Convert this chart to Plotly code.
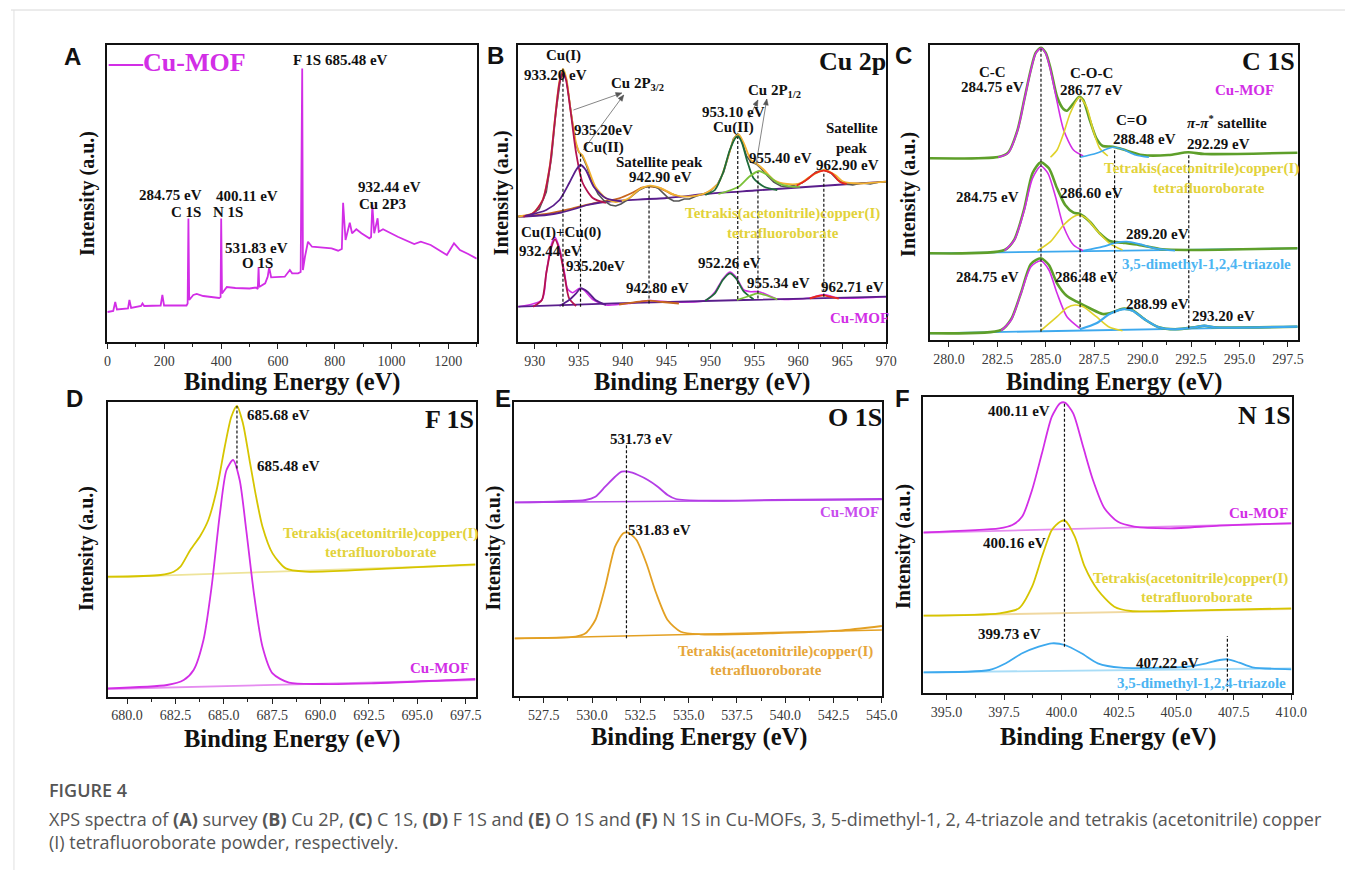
import math
import plotly.graph_objects as go

# page body margin of the html page shifts the figure by 8 px; compensate
OFF = 8
W, H = 1360 - OFF, 870 - OFF

# ---------------- Panel A : survey (Cu-MOF) ----------------
a_ev = [0, 20, 27, 33, 72, 77, 83, 118, 123, 129, 187, 193, 199, 278, 282, 284.75, 287.5, 302, 314, 337,
        393, 398, 400.11, 403, 420, 450, 500, 523, 529, 531.83, 534, 555, 564, 569, 576, 624, 642, 650,
        671, 680, 685.48, 688, 695, 705.8, 720, 789, 812, 825, 829.5, 838, 853, 861, 876, 894, 922, 928,
        932.44, 939, 951, 955, 970, 1022, 1080, 1103, 1138, 1195, 1220, 1241, 1270, 1300]
a_int = [30, 31, 40, 32.5, 33.5, 42, 34, 36, 38.5, 36, 36.5, 47, 36.5, 36.5, 38.5, 123.5, 42, 47, 48, 46,
         44, 45, 123.5, 48.5, 55, 54, 53.5, 54.5, 53, 75, 55, 58.7, 65.3, 74.7, 64.7, 65.3, 72, 68.7,
         68.7, 70, 273.5, 72, 85, 100.3, 95.3, 93.7, 91.3, 93, 139.3, 102, 119.3, 108.7, 112.7, 108.7, 103.7, 105,
         137, 108.7, 123.7, 110.3, 112.7, 105.3, 98, 100.3, 97, 87, 98.7, 92, 88, 83.3]

# ---------------- Panel B : Cu 2p ----------------
# Tetrakis(acetonitrile)copper(I) tetrafluoroborate (upper spectrum)
b_top_bg = [(928.1, 125.3), (931.3, 127), (933.0, 129.5), (934.5, 133), (936.0, 137), (937.5, 139.5),
            (939.0, 141), (945, 144), (950, 148.5), (955, 151.5), (960, 154.5), (965, 157.5), (970, 160.3)]
b_top_cu1 = [(928.7, 125.5), (929.8, 128.7), (930.9, 142), (931.7, 175), (932.25, 219), (932.8, 259),
             (933.2, 270), (933.55, 262), (934.1, 229), (934.7, 189), (935.45, 159), (936.6, 144), (938.1, 139)]
b_top_cu2 = [(928.9, 126), (931.3, 132), (932.8, 142), (933.9, 158.7), (934.7, 172), (935.2, 177),
             (935.8, 172), (936.7, 155.3), (938.1, 143.7), (939.9, 140.5)]
b_top_sat1 = [(928.1, 125.3), (931.3, 128), (934.3, 133.7), (937, 139.3), (939.6, 143.7), (941.1, 149.3),
              (942.2, 154.3), (943.1, 155.3), (944.3, 153.7), (945.4, 148.7), (946.7, 145)]
b_top_p953 = [(949.4, 147), (950.5, 152), (951.4, 168.7), (952.2, 192), (952.9, 204.7), (953.2, 205.3),
              (953.6, 198.7), (954.2, 180.3), (954.9, 163.7), (956.1, 155.3), (957.6, 152)]
b_top_p955 = [(950.9, 148), (953.2, 155.3), (954.4, 165.3), (955.5, 171), (956.5, 167), (957.6, 159.3),
              (959.1, 155.3), (960.2, 155.5)]
b_top_sat2 = [(959.8, 156.3), (960.9, 162), (961.9, 168.7), (962.9, 171.3), (963.8, 168.7), (964.7, 160.3),
              (965.5, 158)]
b_top_env = [(928.1, 125.5), (929.8, 129), (930.9, 142.5), (931.7, 176), (932.25, 220), (932.8, 261),
             (933.2, 273), (933.6, 263), (934.1, 230), (934.7, 199), (935.1, 189), (935.4, 187), (936.0, 175.3),
             (936.9, 155.3), (938.1, 143.7), (939.2, 140), (940.7, 143.7), (941.8, 152), (943.1, 156.3),
             (944.4, 153.7), (945.9, 147), (947.4, 145.3), (949.4, 148.7), (950.9, 158.7), (952.0, 185.3),
             (952.7, 203.7), (953.2, 207.7), (953.8, 198.7), (954.6, 182), (955.3, 178), (956.1, 172),
             (957.2, 162), (958.7, 158), (960.2, 158.7), (961.3, 165.3), (962.9, 172), (964.2, 167),
             (965.1, 160.3), (967, 158.5), (970, 160.3)]
b_top_raw = [(928.1, 125.5), (929.5, 127), (930.5, 133), (931.3, 150), (931.9, 185), (932.4, 230), (932.9, 262),
             (933.2, 272), (933.6, 262), (934.1, 230), (934.6, 200), (935.0, 190), (935.4, 186), (935.9, 176),
             (936.5, 160), (937.2, 148), (937.9, 141), (938.6, 137), (939.2, 136), (939.8, 138), (940.5, 142),
             (941.2, 147), (941.9, 152), (942.6, 155), (943.3, 156), (944.0, 154), (944.6, 149), (945.2, 144),
             (945.8, 141), (946.4, 141), (947.0, 143), (947.6, 143), (948.4, 146), (949.2, 148), (950.0, 151),
             (950.8, 158), (951.5, 170), (952.1, 188), (952.6, 203), (953.1, 208), (953.6, 200), (954.1, 186),
             (954.6, 180), (955.2, 178), (955.8, 173), (956.5, 166), (957.2, 160), (958.0, 156), (958.8, 155),
             (959.6, 157), (960.4, 159), (961.2, 164), (962.0, 170), (962.9, 172), (963.7, 169), (964.5, 162),
             (965.3, 158), (966.2, 157), (967.2, 159), (968.2, 158), (969.2, 160), (970, 160)]
# Cu-MOF (lower spectrum)
b_bot_bg = [(928.1, 35.3), (939, 38.7), (953.8, 42), (970, 45.3)]
b_bot_cu1 = [(929.8, 35.3), (930.8, 42), (931.3, 68.7), (931.9, 95.3), (932.3, 102.7), (932.8, 92),
             (933.4, 65.3), (933.9, 43.7), (934.7, 36)]
b_bot_cu2 = [(932.8, 36), (933.9, 42), (934.7, 48.7), (935.2, 53.7), (936.0, 50.3), (936.9, 42), (938.1, 37)]
b_bot_sat1 = [(939.6, 37.5), (941.9, 40.3), (943.0, 41.3), (944.5, 40), (946.4, 38.5)]
b_bot_p952 = [(949.4, 41.3), (950.5, 48.7), (951.4, 62), (952.2, 68.7), (952.9, 63.7), (953.8, 50.3), (954.9, 42.7)]
b_bot_p955 = [(953.0, 42), (954.4, 46), (955.3, 48.7), (956.2, 47), (957.6, 42.7)]
b_bot_sat2 = [(961.3, 43.7), (962.3, 46), (962.9, 46.7), (963.6, 45.3), (964.6, 43.3)]
b_bot_raw = [(928.1, 35.3), (930.8, 42), (931.3, 69), (931.9, 98), (932.3, 104.7), (932.8, 94), (933.4, 68),
             (933.7, 53.7), (934.3, 49.3), (935.1, 53.7), (935.6, 52), (936.6, 42.5), (938.1, 37), (940.7, 38.5),
             (943.0, 41.5), (945.6, 40), (949.4, 41.5), (950.5, 50), (951.4, 63), (952.2, 70), (952.9, 65),
             (953.8, 52), (954.6, 50.3), (955.5, 50.3), (956.5, 47), (957.6, 43), (961.3, 44), (962.9, 47.5),
             (964.6, 44), (970, 45.3)]
b_dash_ev = [933.2, 935.2, 943.0, 953.1, 955.4, 962.9]
b_dash_top = [275, 190, 155, 205, 170, 170]
b_dash_bot = [35.3, 35.3, 38.5, 43, 43.5, 45.3]

# ---------------- Panel C : C 1S ----------------
c1_env = [(279, 181.7), (282.54, 183), (283.05, 187.3), (283.55, 210.7), (283.89, 240.7), (284.23, 270.7),
          (284.48, 287.3), (284.74, 292.3), (284.99, 287.3), (285.24, 271.7), (285.58, 243.3), (285.92, 230.7),
          (286.09, 229.3), (286.43, 236.7), (286.73, 243.3), (286.93, 240), (287.27, 220), (287.61, 201.7),
          (287.94, 194), (288.46, 193.3), (288.96, 190.7), (289.98, 185), (291.33, 185), (292.35, 187.7),
          (293.19, 186), (298, 187.3)]
c1_cc = [(282.54, 182.7), (283.05, 186.7), (283.55, 210), (283.89, 240), (284.23, 270), (284.48, 286.7),
         (284.74, 291.7), (284.99, 286.7), (285.24, 270), (285.58, 238.3), (285.92, 210), (286.43, 190), (286.93, 184)]
c1_coc = [(285.24, 182.7), (285.58, 190), (285.92, 206.7), (286.26, 226.7), (286.73, 242.7), (287.1, 233.3),
          (287.44, 210), (287.78, 191.7), (288.2, 184)]
c1_co = [(286.76, 182.7), (287.61, 186.7), (288.12, 190.7), (288.46, 192.7), (288.96, 190.7), (289.64, 185), (290.32, 182.7)]

c2_base = [(279, 86.7), (298, 91.7)]
c2_env = [(279, 86.7), (282.87, 90), (283.38, 100.7), (283.89, 131.7), (284.31, 166.7), (284.74, 177.7),
          (285.16, 171.7), (285.58, 151.7), (286.0, 135), (286.43, 127.3), (286.76, 126), (287.27, 118.3),
          (287.78, 106.7), (288.29, 99), (288.96, 97.3), (289.81, 95), (291.0, 90.7), (292.35, 90), (298, 91.7)]
c2_cc = [(282.87, 89.3), (283.38, 100), (283.89, 130), (284.31, 161.7), (284.74, 174), (285.11, 166.7),
         (285.5, 143.3), (285.92, 113.3), (286.43, 95), (286.93, 89.3)]
c2_coc = [(284.57, 89.3), (285.24, 98.3), (285.92, 115), (286.43, 123.3), (286.68, 125), (287.1, 121.7),
          (287.61, 110), (288.29, 96.7), (288.96, 90)]
c2_co = [(286.93, 89.3), (287.94, 93.3), (288.63, 97.3), (289.17, 98.3), (289.81, 96), (290.66, 91.7), (291.67, 89.3)]

c3_base = [(279, 6.7), (298, 13.3)]
c3_env = [(279, 6.7), (282.7, 10), (283.21, 20.7), (283.72, 47.3), (284.23, 76), (284.74, 81.7), (285.16, 75),
          (285.58, 56.7), (286.09, 44), (286.6, 38.3), (287.27, 31.7), (287.94, 26), (288.29, 26.7),
          (288.96, 31.3), (289.47, 29.7), (290.15, 20), (290.83, 12.7), (291.67, 10.7), (292.68, 12.7),
          (293.19, 14.3), (293.7, 12.7), (298, 13.3)]
c3_cc = [(282.7, 9.3), (283.21, 20), (283.72, 46.7), (284.23, 73.3), (284.74, 79.3), (285.16, 70), (285.58, 46.7),
         (286.09, 23.3), (286.76, 11.7)]
c3_coc = [(284.74, 9.3), (285.58, 23.3), (286.09, 32.3), (286.51, 35), (286.93, 33.3), (287.61, 23.3),
          (288.29, 12.7), (288.96, 9.3)]
c3_co = [(286.76, 10.7), (287.61, 16.7), (288.29, 26), (288.96, 30.7), (289.47, 29.3), (290.15, 20),
         (290.83, 12.7), (291.67, 10.7), (292.68, 12.7), (293.19, 14.3), (293.7, 12.7), (298, 13.3)]
c_dash_ev = [284.75, 286.77, 288.55, 292.38]
c_dash_top = [291.7, 243, 190, 186.7]
c_dash_bot = [8.3, 12.7, 26.7, 11.7]

# ---------------- Panel D : F 1S ----------------
d_tk = [(679.0, 120), (681.73, 121.7), (682.41, 125), (682.76, 130), (683.27, 146.7), (683.78, 160.7),
        (684.2, 176.7), (684.63, 206.7), (685.05, 250), (685.39, 280), (685.68, 290.7), (685.99, 273.3),
        (686.33, 236.7), (686.67, 200), (687.0, 170), (687.52, 143.3), (688.2, 128.3), (689.22, 125),
        (692.62, 127.3), (698.0, 132.3)]
d_tk_base = [(679.0, 119.4), (698.0, 131.7)]
d_mof = [(679.0, 8.4), (682.07, 11.7), (682.93, 16.7), (683.44, 26.7), (683.95, 56.7), (684.37, 110),
         (684.8, 183.3), (685.14, 226.7), (685.48, 236.7), (685.82, 216.7), (686.16, 166.7), (686.58, 100),
         (687.0, 50), (687.52, 23.3), (688.37, 14), (690.07, 12.7), (692.62, 13.4), (698.0, 17.7)]
d_mof_base = [(679.0, 7.7), (698.0, 16.7)]
d_dash_ev = [685.68]
d_dash_top = [290.7]
d_dash_bot = [228.3]

# ---------------- Panel E : O 1S ----------------
e_mof = [(526.0, 193.7), (529.66, 196), (530.17, 199.3), (530.68, 209.3), (531.19, 219.3), (531.53, 224.3),
         (531.87, 224.3), (532.38, 221), (532.89, 216), (533.4, 209.3), (533.91, 201), (534.34, 197),
         (535.95, 195.3), (539.35, 196), (545.0, 197)]
e_mof_base = [(526.0, 193.5), (545.0, 196.5)]
e_tk = [(526.0, 57.7), (529.15, 59.3), (529.66, 62.7), (530.17, 76), (530.68, 109.3), (531.19, 149.3),
        (531.62, 162.7), (531.87, 163.3), (532.3, 156), (532.81, 132.7), (533.32, 102.7), (533.91, 76),
        (534.59, 64.3), (535.61, 61.7), (539.35, 62.7), (542.76, 65.3), (545.0, 70)]
e_tk_base = [(526.0, 57.5), (545.0, 66)]
e_dash_ev = [531.78]
e_dash_top = [252.7]
e_dash_bot = [57.7]

# ---------------- Panel F : N 1S ----------------
f_mof = [(394.0, 161), (397.29, 165), (397.86, 168.3), (398.29, 176.7), (398.72, 203.3), (399.15, 240),
         (399.58, 276.7), (399.94, 290), (400.15, 290.7), (400.51, 280), (400.94, 246.7), (401.37, 213.3),
         (401.87, 185), (402.44, 171.7), (403.16, 166.7), (404.73, 165), (406.88, 167.7), (410.0, 170)]
f_mof_base = [(394.0, 160.5), (410.0, 170)]
f_tk = [(394.0, 77.6), (397.29, 80), (398.15, 85), (398.72, 106.6), (399.15, 136.6), (399.58, 163.3),
        (399.94, 171.6), (400.15, 172.6), (400.58, 156.6), (401.01, 126.6), (401.58, 103.3), (402.3, 86.6),
        (403.01, 82.3), (405.45, 82.6), (410.0, 85)]
f_tk_base = [(394.0, 77.6), (410.0, 84.3)]
f_tz = [(394.0, 21), (396.86, 23.3), (397.58, 30), (398.29, 40), (399.01, 46.6), (399.58, 50), (400.15, 48.3),
        (400.87, 40), (401.58, 30), (402.59, 25.6), (405.45, 26.6), (406.31, 30), (406.88, 33.3), (407.24, 34),
        (407.74, 30.6), (408.31, 26), (410.0, 24)]
f_tz_base = [(394.0, 21), (410.0, 25)]
f_dash_ev = [400.13, 407.22]
f_dash_top = [290, 57.3]
f_dash_bot = [46.6, 1.6]

# ---------------- colours ----------------
MAG = "#D22EE6"
YEL = "#D6C500"
YEL_T = "#E2D23A"
BLUE = "#3DA9EE"
BLUE_T = "#4DB5F2"
GREEN = "#5E9F2A"
CYEL = "#E0D22A"
ORG = "#E3A023"
SERIF = "Liberation Serif, Times New Roman, serif"
SANS = "Liberation Sans, Arial, sans-serif"


def PX(x):
    return (x - OFF) / W


def PY(y):
    return 1 - (y - OFF) / H


# panel boxes in screen pixels (left, top, right, bottom)
boxes = {
    "A": (105, 45, 480, 342),
    "B": (522, 45, 895, 342),
    "C": (939, 45, 1312, 340),
    "D": (106, 402.3, 479, 696.7),
    "E": (518, 401.7, 891, 696),
    "F": (932, 397.3, 1306, 693.3),
}
axis_id = {"A": "", "B": "2", "C": "3", "D": "4", "E": "5", "F": "6"}

fig = go.Figure()


def add(panel, pts, color, width=1.8, shape="spline", dash=None, xs=None, ys=None):
    if pts is not None:
        xs = [p[0] for p in pts]
        ys = [p[1] for p in pts]
    n = axis_id[panel]
    line = dict(color=color, width=width, shape=shape)
    if shape == "spline":
        line["smoothing"] = 0.7
    if dash:
        line["dash"] = dash
    fig.add_trace(go.Scatter(x=xs, y=ys, mode="lines", line=line, hoverinfo="skip",
                             showlegend=False, xaxis="x" + n, yaxis="y" + n))


def add_dashes(panel, evs, tops, bots):
    for e, t, b in zip(evs, tops, bots):
        add(panel, None, "#111111", width=1.2, shape="linear", dash="3px,2px", xs=[e, e], ys=[b, t])


# Panel A
add("A", None, MAG, width=1.8, shape="linear", xs=a_ev, ys=a_int)

# Panel B
add("B", b_top_sat1, "#C8661E", 1.8)
add("B", b_top_bg, "#5A1E8C", 1.8)
add("B", b_top_raw, "#555555", 1.6, shape="linear")
add("B", b_top_env, "#F2B233", 1.8)
add("B", b_top_cu1, "#B31350", 1.8)
add("B", b_top_cu2, "#5A1E8C", 1.8)
add("B", b_top_p953, "#1E6B3A", 1.8)
add("B", b_top_p955, "#7CC23A", 1.8)
add("B", b_top_sat2, "#E8281E", 1.8)
add("B", b_bot_raw, MAG, 1.6)
add("B", b_bot_bg, "#5A1E8C", 1.8, shape="linear")
add("B", b_bot_cu1, "#B31350", 1.8)
add("B", b_bot_cu2, "#5A1E8C", 1.8)
add("B", b_bot_sat1, "#C8661E", 1.8)
add("B", b_bot_p952, "#1E6B3A", 1.8)
add("B", b_bot_p955, "#7CC23A", 1.8)
add("B", b_bot_sat2, "#E8281E", 1.8)
add_dashes("B", b_dash_ev, b_dash_top, b_dash_bot)

# Panel C
add("C", c1_env, GREEN, 2.6)
add("C", c1_cc, MAG, 1.6)
add("C", c1_coc, CYEL, 1.6)
add("C", c1_co, BLUE, 1.6)
add("C", c2_base, BLUE, 1.8, shape="linear")
add("C", c2_env, GREEN, 2.6)
add("C", c2_cc, MAG, 1.6)
add("C", c2_coc, CYEL, 1.6)
add("C", c2_co, BLUE, 1.8)
add("C", c3_base, BLUE, 1.8, shape="linear")
add("C", c3_env, GREEN, 2.6)
add("C", c3_cc, MAG, 1.6)
add("C", c3_coc, CYEL, 1.6)
add("C", c3_co, BLUE, 2.2)
add_dashes("C", c_dash_ev, c_dash_top, c_dash_bot)

# Panel D
add("D", d_tk_base, "#EEE49A", 1.8, shape="linear")
add("D", d_tk, YEL, 1.8)
add("D", d_mof_base, "#E58CF0", 1.8, shape="linear")
add("D", d_mof, MAG, 1.8)
add_dashes("D", d_dash_ev, d_dash_top, d_dash_bot)

# Panel E
add("E", e_mof_base, "#B84EE8", 1.6, shape="linear")
add("E", e_mof, "#B43EE6", 1.8)
add("E", e_tk_base, ORG, 1.6, shape="linear")
add("E", e_tk, ORG, 1.8)
add_dashes("E", e_dash_ev, e_dash_top, e_dash_bot)

# Panel F
add("F", f_mof_base, "#E58CF0", 1.8, shape="linear")
add("F", f_mof, MAG, 1.8)
add("F", f_tk_base, "#F0D8A0", 1.8, shape="linear")
add("F", f_tk, YEL, 1.8)
add("F", f_tz_base, "#A9DDF7", 1.8, shape="linear")
add("F", f_tz, BLUE, 1.8)
add_dashes("F", f_dash_ev, f_dash_top, f_dash_bot)

# ---------------- axes ----------------
xranges = {"A": [-3, 1300], "B": [928.1, 970], "C": [279, 298], "D": [679, 698.02],
           "E": [525.97, 545.02], "F": [393.96, 410.02]}
xdtick = {"A": 200, "B": 5, "C": 2.5, "D": 2.5, "E": 2.5, "F": 2.5}
xfmt = {"A": "d", "B": "d", "C": ".1f", "D": ".1f", "E": ".1f", "F": ".1f"}

layout = dict(width=W, height=H, paper_bgcolor="white", plot_bgcolor="white",
              margin=dict(l=0, r=0, t=0, b=0), showlegend=False)
for p, (l, t, r, b) in boxes.items():
    n = axis_id[p]
    ymax = b - t
    layout["xaxis" + n] = dict(
        domain=[PX(l), PX(r)], range=xranges[p], anchor="y" + n, dtick=xdtick[p], tick0=0,
        tickformat=xfmt[p], ticks="outside", ticklen=5, tickwidth=1.2, tickcolor="#222",
        minor=dict(ticks="outside", ticklen=3, tickwidth=1, tickcolor="#222", dtick=xdtick[p] / 2),
        showline=True, linecolor="#111", linewidth=1.6, mirror=True, showgrid=False, zeroline=False,
        tickfont=dict(family=SERIF, size=14, color="#3a3a3a"))
    layout["yaxis" + n] = dict(
        domain=[PY(b), PY(t)], range=[0, ymax], anchor="x" + n, showticklabels=False,
        ticks="", showline=True, linecolor="#111", linewidth=1.6, mirror=True, showgrid=False,
        zeroline=False)
fig.update_layout(**layout)

# ---------------- annotations ----------------
ann = []


def txt(s, x, y, size=15, color="#111", family=SERIF, bold=True, angle=0, xanchor="center", weight=None,
        align="center"):
    f = dict(family=family, size=size, color=color)
    if weight:
        f["weight"] = weight
    ann.append(dict(text=("<b>%s</b>" % s) if bold else s, x=PX(x), y=PY(y), xref="paper", yref="paper",
                    showarrow=False, xanchor=xanchor, yanchor="middle", textangle=angle, font=f, align=align))


# axis titles
for cx, cy in [(293, 382), (708, 382), (1126, 382), (293, 739), (705, 737), (1120, 737)]:
    txt("Binding Energy (eV)", cx, cy, size=24.5)
for cx, cy in [(85, 193), (505, 193), (917, 194), (84, 548), (497, 548), (912, 546)]:
    txt("Intensity (a.u.)", cx, cy, size=20, angle=-90)

# panel letters
for s, x, y in [("A", 70, 56), ("B", 499, 55), ("C", 913, 55), ("D", 72, 398), ("E", 507, 398), ("F", 912, 398)]:
    txt(s, x, y, size=24, family=SANS)

# Panel A labels
txt("Cu-MOF", 194, 63, size=26, color=MAG)
txt("F 1S 685.48 eV", 342, 60)
txt("284.75 eV", 170, 195)
txt("C 1S", 185, 212)
txt("400.11 eV", 247, 196)
txt("N 1S", 228, 212)
txt("531.83 eV", 257, 248)
txt("O 1S", 258, 263)
txt("932.44 eV", 392, 187)
txt("Cu 2P3", 385, 204)

# Panel B labels
txt("Cu 2p", 861, 62, size=26)
txt("Cu(I)", 568, 55)
txt("933.20 eV", 560, 75)
txt("Cu 2P<sub>3/2</sub>", 643, 84)
txt("935.20eV", 608, 130)
txt("Cu(II)", 608, 147)
txt("Satellite peak", 665, 162)
txt("942.90 eV", 666, 177)
txt("Cu 2P<sub>1/2</sub>", 782, 91)
txt("953.10 eV", 740, 112)
txt("Cu(II)", 740, 128)
txt("955.40 eV", 788, 158)
txt("Satellite", 860, 128)
txt("peak", 860, 148)
txt("962.90 eV", 856, 165)
txt("Tetrakis(acetonitrile)copper(I)", 790, 213, color=YEL_T)
txt("tetrafluoroborate", 790, 233, color=YEL_T)
txt("Cu(I)+Cu(0)", 565, 232)
txt("932.44 eV", 555, 251)
txt("935.20eV", 600, 266)
txt("942.80 eV", 663, 288)
txt("952.26 eV", 736, 263)
txt("955.34 eV", 786, 283)
txt("962.71 eV", 861, 287)
txt("Cu-MOF", 868, 318, color=MAG)

# Panel C labels
txt("C 1S", 1282, 62, size=26)
txt("C-C", 1003, 72)
txt("284.75 eV", 1003, 87)
txt("C-O-C", 1103, 73)
txt("286.77 eV", 1103, 90)
txt("Cu-MOF", 1258, 90, color=MAG)
txt("C=O", 1144, 120)
txt("<i>π</i>-<i>π</i><sup>*</sup> satellite", 1240, 122)
txt("288.48 eV", 1157, 139)
txt("292.29 eV", 1232, 144)
txt("Tetrakis(acetonitrile)copper(I)", 1215, 168, color=YEL_T)
txt("tetrafluoroborate", 1222, 188, color=YEL_T)
txt("284.75 eV", 998, 197)
txt("286.60 eV", 1103, 193)
txt("289.20 eV", 1170, 234)
txt("3,5-dimethyl-1,2,4-triazole", 1220, 264, color=BLUE_T)
txt("284.75 eV", 998, 277)
txt("286.48 eV", 1098, 277)
txt("288.99 eV", 1170, 304)
txt("293.20 eV", 1237, 316)

# Panel D labels
txt("F 1S", 452, 419, size=26)
txt("685.68 eV", 279, 415)
txt("685.48 eV", 289, 466)
txt("Tetrakis(acetonitrile)copper(I)", 382, 533, color=YEL_T)
txt("tetrafluoroborate", 383, 552, color=YEL_T)
txt("Cu-MOF", 442, 668, color=MAG)

# Panel E labels
txt("O 1S", 863, 417, size=26)
txt("531.73 eV", 647, 439)
txt("531.83 eV", 665, 530)
txt("Cu-MOF", 858, 512, color="#C84CEE")
txt("Tetrakis(acetonitrile)copper(I)", 783, 651, color="#E6A63A")
txt("tetrafluoroborate", 773, 670, color="#E6A63A")

# Panel F labels
txt("N 1S", 1278, 415, size=26)
txt("400.11 eV", 1030, 411)
txt("Cu-MOF", 1272, 513, color=MAG)
txt("400.16 eV", 1025, 543)
txt("Tetrakis(acetonitrile)copper(I)", 1203, 578, color=YEL_T)
txt("tetrafluoroborate", 1210, 597, color=YEL_T)
txt("399.73 eV", 1020, 634)
txt("407.22 eV", 1180, 663)
txt("3,5-dimethyl-1,2,4-triazole", 1215, 683, color=BLUE_T)

# caption
txt("FIGURE 4", 44, 790, size=18, color="#555", family="Open Sans, sans-serif", bold=False,
    xanchor="left", weight=600)
txt("XPS spectra of <b>(A)</b> survey <b>(B)</b> Cu 2P, <b>(C)</b> C 1S, <b>(D)</b> F 1S and <b>(E)</b> O 1S and "
    "<b>(F)</b> N 1S in Cu-MOFs, 3, 5-dimethyl-1, 2, 4-triazole and tetrakis (acetonitrile) copper"
    "<br>(I) tetrafluoroborate powder, respectively.",
    44, 830, size=18, color="#555", family="Open Sans, sans-serif", bold=False, xanchor="left", align="left")

fig.update_layout(annotations=ann)

# ---------------- shapes ----------------
shapes = []
# legend line of panel A
shapes.append(dict(type="line", xref="paper", yref="paper", x0=PX(107), x1=PX(142), y0=PY(65), y1=PY(65),
                   line=dict(color=MAG, width=2)))
# Panel B arrows (tail -> head, screen pixels)
for (x0, y0, x1, y1) in [(578, 110, 627, 93), (588, 150, 629, 95), (756, 118, 765, 100), (763, 165, 774, 99)]:
    shapes.append(dict(type="line", xref="paper", yref="paper", x0=PX(x0), y0=PY(y0), x1=PX(x1), y1=PY(y1),
                       line=dict(color="#777", width=0.9)))
    d = math.hypot(x1 - x0, y1 - y0)
    ux, uy = (x1 - x0) / d, (y1 - y0) / d
    bx, by = x1 - 6 * ux, y1 - 6 * uy
    lx, ly = bx - 2.5 * uy, by + 2.5 * ux
    rx, ry = bx + 2.5 * uy, by - 2.5 * ux
    path = "M %f %f L %f %f L %f %f Z" % (PX(x1), PY(y1), PX(lx), PY(ly), PX(rx), PY(ry))
    shapes.append(dict(type="path", xref="paper", yref="paper", path=path, fillcolor="#555",
                       line=dict(color="#555", width=0.5)))
# page border lines
shapes.append(dict(type="line", xref="paper", yref="paper", x0=0, x1=1, y0=PY(10), y1=PY(10),
                   line=dict(color="#d8d8d8", width=1)))
shapes.append(dict(type="line", xref="paper", yref="paper", x0=PX(11), x1=PX(11), y0=0, y1=PY(10),
                   line=dict(color="#e0e0e0", width=1)))
fig.update_layout(shapes=shapes)

fig.write_html("out.html")
